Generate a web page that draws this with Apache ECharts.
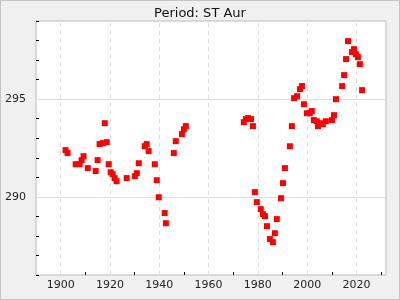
<!DOCTYPE html>
<html>
<head>
<meta charset="utf-8">
<script src="https://cdn.jsdelivr.net/npm/echarts@6/dist/echarts.min.js"></script>
<style>html,body{margin:0;padding:0;background:#f0f0f0;}#c{width:400px;height:300px;}</style>
</head>
<body>
<div id="c"></div>
<script>
const years = [1902.0,1902.8,1906.1,1907.7,1908.5,1909.3,1911.0,1914.2,1915.0,1915.8,1917.1,1918.7,1917.9,1919.5,1920.3,1921.1,1921.9,1922.7,1926.8,1930.1,1930.9,1931.7,1934.1,1934.9,1935.7,1938.2,1939.0,1939.8,1942.2,1942.7,1945.9,1946.7,1949.2,1950.0,1950.8,1974.3,1975.2,1976.0,1977.2,1978.0,1978.8,1979.6,1981.2,1982.1,1982.9,1983.7,1984.9,1986.1,1986.9,1987.7,1989.4,1990.2,1991.0,1993.0,1993.8,1994.7,1995.9,1997.1,1997.9,1998.7,1999.9,2001.1,2001.9,2002.7,2003.9,2004.4,2005.6,2006.4,2007.6,2010.1,2010.9,2011.7,2014.2,2015.0,2015.8,2016.6,2018.2,2019.0,2019.8,2020.6,2021.4,2022.3];
const periods = [292.39,292.24,291.67,291.67,291.88,292.08,291.47,291.32,291.88,292.70,292.75,292.80,293.77,291.67,291.26,291.16,290.96,290.80,290.96,291.06,291.21,291.72,292.59,292.70,292.34,291.67,290.85,289.98,289.17,288.65,292.24,292.85,293.21,293.46,293.62,293.82,293.98,294.03,293.98,293.62,290.24,289.73,289.37,289.11,289.01,288.50,287.84,287.68,288.14,288.86,289.93,290.70,291.47,292.59,293.62,295.05,295.15,295.51,295.67,294.74,294.28,294.28,294.39,293.93,293.87,293.62,293.77,293.72,293.87,293.93,294.18,295.00,295.67,296.23,297.05,297.97,297.41,297.56,297.30,297.15,296.79,295.46];
const xGridValues = [1900,1920,1940,1960,1980,2000,2020];
const yGridValues = [290,295];
const titleText = 'Period: ST Aur';

const points = years.map((y,i)=>[y,periods[i]]);
const chart = echarts.init(document.getElementById('c'), null, {renderer:'canvas'});
chart.setOption({
  animation:false,
  backgroundColor:'#f0f0f0',
  title:{text:titleText,left:'center',top:2,textStyle:{fontFamily:'DejaVu Sans',fontSize:13,fontWeight:'normal',color:'#111'}},
  graphic:[{type:'rect',shape:{x:0.5,y:0.5,width:399,height:299},style:{fill:'none',stroke:'#c4c4c4',lineWidth:1},silent:true}],
  grid:{left:36,right:14,top:21,bottom:25,show:true,backgroundColor:'#fff',borderColor:'#bbbbbb',borderWidth:1},
  xAxis:{type:'value',min:1890,max:2032,interval:10,
    axisLine:{show:false},
    axisTick:{show:true,inside:true,length:3,lineStyle:{color:'#000'}},
    splitLine:{show:false},
    axisLabel:{fontFamily:'DejaVu Sans',fontSize:11,color:'#222',margin:5,showMaxLabel:false,showMinLabel:false,
      formatter:v=> (Math.round(v)%20===0 ? String(Math.round(v)) : '')}
  },
  yAxis:{type:'value',min:286,max:299,interval:1,
    axisLine:{show:false},
    axisTick:{show:true,inside:true,length:3,lineStyle:{color:'#000'}},
    splitLine:{show:false},
    axisLabel:{fontFamily:'DejaVu Sans',fontSize:11,color:'#222',margin:10,
      formatter:v=> (Math.round(v)%5===0 ? String(Math.round(v)) : '')}
  },
  series:[
    {type:'line',data:[],z:1,silent:true,
      markLine:{silent:true,z:1,symbol:'none',label:{show:false},animation:false,
        data:[
          ...xGridValues.map(v=>({xAxis:v,lineStyle:{type:[4,4],color:'#dddddd',width:1}})),
          ...yGridValues.map(v=>({yAxis:v,lineStyle:{type:'solid',color:'#dddddd',width:1}}))
        ]}
    },
    {type:'scatter',data:points,symbol:'rect',symbolSize:6,z:4,itemStyle:{color:'#ff0000',opacity:1}}
  ]
});
</script>
</body>
</html>
